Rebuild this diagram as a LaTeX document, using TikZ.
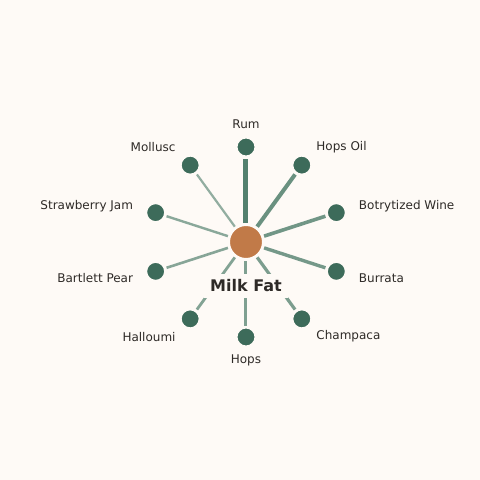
\documentclass[tikz,border=0pt]{standalone}
\usepackage{xcolor}
\usepackage{fontspec}
\usepackage{tikz}
\setmainfont{DejaVu Sans}

\definecolor{paper}{HTML}{FEFAF6}
\definecolor{leaf}{HTML}{3D6B5A}
\definecolor{stem}{HTML}{4A7A67}
\definecolor{clay}{HTML}{C17A48}
\definecolor{ink}{HTML}{2E2A27}

\begin{document}
\begin{tikzpicture}[x=1pt, y=1pt,
    hub/.style={circle, fill=clay, draw=paper, line width=3pt, minimum size=35pt, inner sep=0pt},
    dot/.style={circle, fill=leaf, draw=paper, line width=3pt, minimum size=20pt, inner sep=0pt},
    spoke/.style={draw=stem},
    lbl/.style={text=ink, inner sep=1.5pt, font=\fontsize{12}{14}\selectfont}]
    \fill[paper] (-246,-238) rectangle (234,242);

    \node[hub] (fat) at (0,0) {};

    \node[dot] (rum) at (90:95) {};
    \node[dot] (hopsoil) at (54:95) {};
    \node[dot] (wine) at (18:95) {};
    \node[dot] (burrata) at (-18:95) {};
    \node[dot] (champaca) at (-54:95) {};
    \node[dot] (hops) at (-90:95) {};
    \node[dot] (halloumi) at (-126:95) {};
    \node[dot] (pear) at (-162:95) {};
    \node[dot] (jam) at (162:95) {};
    \node[dot] (mollusc) at (126:95) {};

    \draw[spoke, line width=5pt, opacity=.95] (fat) -- (rum);
    \draw[spoke, line width=4pt, opacity=.82] (fat) -- (hopsoil);
    \draw[spoke, line width=3.6pt, opacity=.78] (fat) -- (wine);
    \draw[spoke, line width=3.4pt, opacity=.76] (fat) -- (burrata);
    \draw[spoke, line width=3.2pt, opacity=.72] (fat) -- (champaca);
    \draw[spoke, line width=3pt, opacity=.7] (fat) -- (hops);
    \draw[spoke, line width=2.8pt, opacity=.68] (fat) -- (halloumi);
    \draw[spoke, line width=2.6pt, opacity=.66] (fat) -- (pear);
    \draw[spoke, line width=2.4pt, opacity=.64] (fat) -- (jam);
    \draw[spoke, line width=2.2pt, opacity=.6] (fat) -- (mollusc);

    \node[lbl] (t-rum) at (90:118) {Rum};
    \node[lbl, anchor=west] (t-hopsoil) at (54:117) {Hops Oil};
    \node[lbl, anchor=west] (t-wine) at (18:117) {Botrytized Wine};
    \node[lbl, anchor=west] (t-burrata) at (-18:117) {Burrata};
    \node[lbl, anchor=west] (t-champaca) at (-54:117) {Champaca};
    \node[lbl] (t-hops) at (-90:118) {Hops};
    \node[lbl, anchor=east] (t-halloumi) at (-126:117) {Halloumi};
    \node[lbl, anchor=east] (t-pear) at (-162:117) {Bartlett Pear};
    \node[lbl, anchor=east] (t-jam) at (162:117) {Strawberry Jam};
    \node[lbl, anchor=east] (t-mollusc) at (126:117) {Mollusc};

    % label of the hub sits over the lower spokes
    \node[fill=paper, text=ink, inner sep=6pt, font=\bfseries\fontsize{16}{18}\selectfont] (t-fat) at (0,-44) {Milk Fat};
\end{tikzpicture}
\end{document}
